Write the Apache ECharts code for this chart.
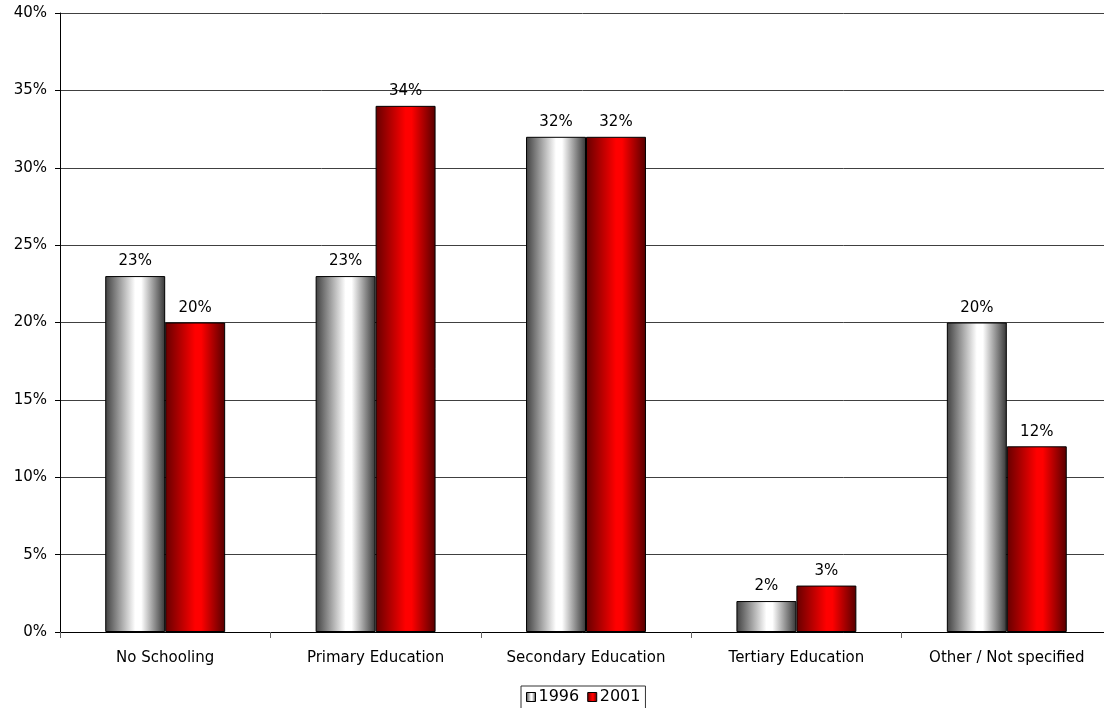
<!DOCTYPE html>
<html>
<head>
<meta charset="utf-8">
<script src="https://cdn.jsdelivr.net/npm/echarts@6/dist/echarts.min.js"></script>
<style>
html,body{margin:0;padding:0;background:#fff;overflow:hidden;}
#chart{width:1104px;height:708px;}
</style>
</head>
<body>
<div id="chart"></div>
<script>
// Education level shares, 1996 vs 2001
const categories = ['No Schooling', 'Primary Education', 'Secondary Education', 'Tertiary Education', 'Other / Not specified'];
const values1996 = [23, 23, 32, 2, 20];
const values2001 = [20, 34, 32, 3, 12];
const yTicks = [0, 5, 10, 15, 20, 25, 30, 35, 40];

const FONT = 'DejaVu Sans, Verdana, sans-serif';

function cylGrad(left, right, light) {
  return new echarts.graphic.LinearGradient(0, 0, 1, 0, [
    { offset: 0, color: left },
    { offset: 0.5, color: light },
    { offset: 0.6, color: light },
    { offset: 1, color: right }
  ]);
}
const grayFill = cylGrad('#404040', '#353535', '#ffffff');
const redFill = cylGrad('#660000', '#550000', '#ff0000');

const chart = echarts.init(document.getElementById('chart'));
chart.setOption({
  animation: false,
  textStyle: { fontFamily: FONT },
  // plot area runs slightly past the right edge of the canvas
  grid: { left: 60, width: 1052, top: 13, bottom: 76, containLabel: false, outerBoundsMode: 'none' },
  legend: {
    left: 521,
    top: 686,
    itemWidth: 9,
    itemHeight: 9,
    itemGap: 8,
    padding: [3, 5, 4, 5],
    borderColor: '#333',
    borderWidth: 1,
    borderRadius: 0,
    textStyle: { fontFamily: FONT, fontSize: 16, color: '#000', padding: [0, 0, 0, -2] },
    data: [
      { name: '1996', icon: 'rect', itemStyle: { color: grayFill, borderColor: '#000', borderWidth: 1 } },
      { name: '2001', icon: 'rect', itemStyle: { color: redFill, borderColor: '#000', borderWidth: 1 } }
    ]
  },
  xAxis: {
    type: 'category',
    data: categories,
    axisLine: { lineStyle: { color: '#000', width: 1 } },
    axisTick: { show: true, length: 6, lineStyle: { color: '#666' } },
    axisLabel: { fontFamily: FONT, fontSize: 15, color: '#000', margin: 19 }
  },
  yAxis: {
    type: 'value',
    min: yTicks[0],
    max: yTicks[yTicks.length - 1],
    interval: 5,
    axisLine: { show: true, lineStyle: { color: '#000', width: 1 } },
    axisTick: { show: true, length: 5, lineStyle: { color: '#000' } },
    axisLabel: { fontFamily: FONT, fontSize: 15, color: '#000', margin: 13, formatter: '{value}%' },
    splitLine: { show: true, lineStyle: { color: '#404040', width: 1 } }
  },
  series: [
    {
      name: '1996',
      type: 'bar',
      data: values1996,
      barGap: '0%',
      barCategoryGap: '43%',
      itemStyle: { color: grayFill, borderColor: '#000', borderWidth: 1 },
      label: { show: true, position: 'top', distance: 7, formatter: '{c}%', fontFamily: FONT, fontSize: 15, color: '#000' }
    },
    {
      name: '2001',
      type: 'bar',
      data: values2001,
      itemStyle: { color: redFill, borderColor: '#000', borderWidth: 1 },
      label: { show: true, position: 'top', distance: 7, formatter: '{c}%', fontFamily: FONT, fontSize: 15, color: '#000' }
    }
  ]
});
</script>
</body>
</html>
